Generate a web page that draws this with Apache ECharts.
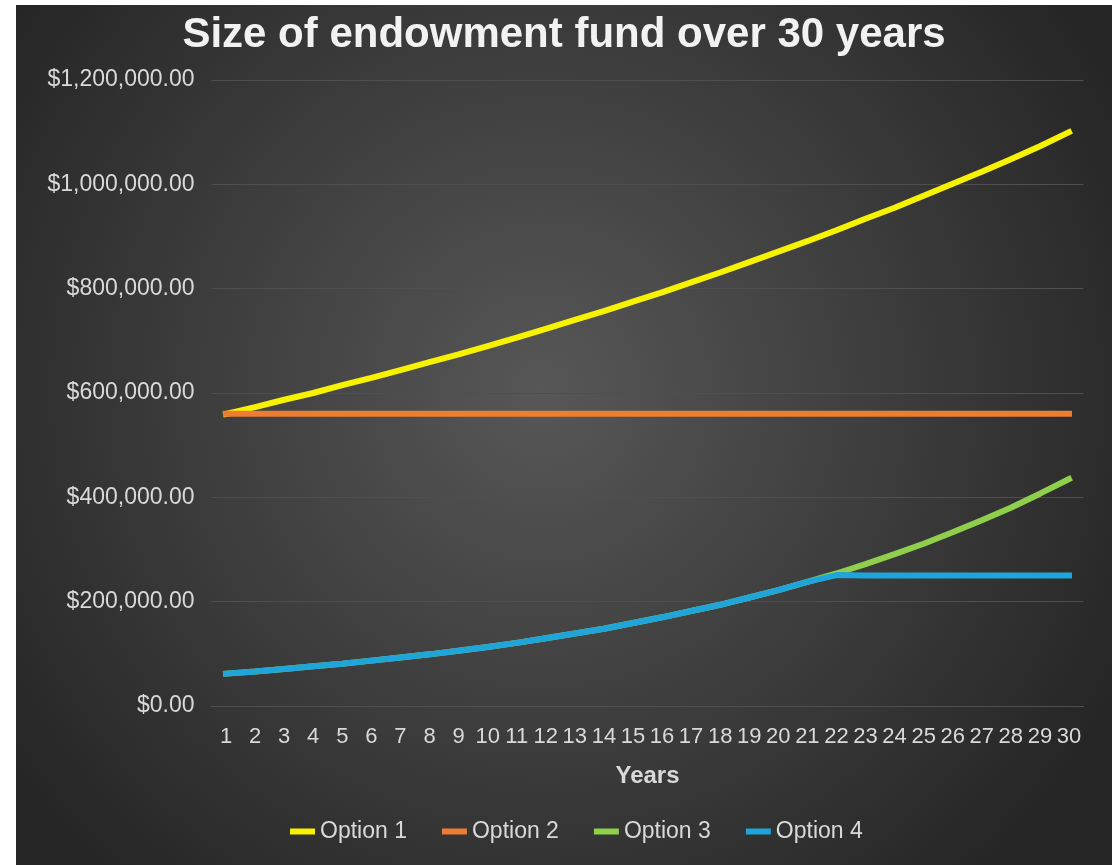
<!DOCTYPE html>
<html>
<head>
<meta charset="utf-8">
<title>Size of endowment fund over 30 years</title>
<script src="https://cdn.jsdelivr.net/npm/echarts@6/dist/echarts.min.js"></script>
<style>
  html, body { margin: 0; padding: 0; background: #fff; }
  #chart {
    position: absolute;
    left: 16px;
    top: 5px;
    width: 1096px;
    height: 860px;
  }
</style>
</head>
<body>
<div id="chart"></div>
<script>
// years on the x axis
var years = ['1', '2', '3', '4', '5', '6', '7', '8', '9', '10',
  '11', '12', '13', '14', '15', '16', '17', '18', '19', '20',
  '21', '22', '23', '24', '25', '26', '27', '28', '29', '30']

// values
var option1 = [560000, 573000, 587000, 600000, 615000, 629000, 644000, 659000, 674000, 690000,
  706000, 723000, 740000, 757000, 775000, 793000, 812000, 831000, 851000, 871000,
  891000, 912000, 934000, 955000, 978000, 1001000, 1024000, 1048000, 1073000, 1100000]
var option2 = [560000, 560000, 560000, 560000, 560000, 560000, 560000, 560000, 560000, 560000,
  560000, 560000, 560000, 560000, 560000, 560000, 560000, 560000, 560000, 560000,
  560000, 560000, 560000, 560000, 560000, 560000, 560000, 560000, 560000, 560000]
var option3 = [62000, 66000, 71000, 76000, 81000, 87000, 93000, 99000, 106000, 113000,
  121000, 130000, 139000, 148000, 159000, 170000, 182000, 194000, 208000, 222000,
  238000, 254000, 272000, 291000, 311000, 333000, 356000, 380000, 407000, 435000]
var option4 = [62000, 66000, 71000, 76000, 81000, 87000, 93000, 99000, 106000, 113000,
  121000, 130000, 139000, 148000, 159000, 170000, 182000, 194000, 208000, 222000,
  238000, 251000, 250000, 250000, 250000, 250000, 250000, 250000, 250000, 250000]

var seriesNames = ['Option 1', 'Option 2', 'Option 3', 'Option 4']
var seriesColors = ['#f7f200', '#ed7d31', '#8fcf4c', '#1fa5d9']

let myChart = echarts.init(document.getElementById('chart'))

function money(v) {
  return '$' + v.toLocaleString('en-US', { minimumFractionDigits: 2, maximumFractionDigits: 2 })
}

let lineSeries = [option1, option2, option3, option4].map(function (d, i) {
  return {
    name: seriesNames[i],
    type: 'line',
    data: d,
    symbol: 'none',
    lineStyle: {
      width: 6,
      color: seriesColors[i],
      cap: 'square'
    },
    itemStyle: { color: seriesColors[i] },
    z: 2 + i
  }
})

let option = {
  backgroundColor: {
    type: 'radial',
    x: 0.48,
    y: 0.45,
    r: 0.75,
    colorStops: [
      { offset: 0, color: '#575757' },
      { offset: 1, color: '#262626' }
    ]
  },
  animation: false,
  textStyle: { fontFamily: 'Liberation Sans, Arial, sans-serif' },
  title: {
    text: 'Size of endowment fund over 30 years',
    left: 'center',
    top: 4,
    textStyle: {
      color: '#f2f2f2',
      fontSize: 42,
      fontWeight: 'bold',
      fontFamily: 'Liberation Sans, Arial, sans-serif'
    }
  },
  legend: {
    left: 269,
    bottom: 17,
    itemWidth: 25,
    itemHeight: 6,
    itemGap: 35,
    icon: 'rect',
    data: seriesNames,
    textStyle: { color: '#d9d9d9', fontSize: 23 }
  },
  grid: {
    left: 195.5,
    right: 28.5,
    top: 75,
    bottom: 159
  },
  xAxis: {
    type: 'category',
    data: years,
    boundaryGap: true,
    name: 'Years',
    nameLocation: 'middle',
    nameGap: 58,
    nameTextStyle: { color: '#d9d9d9', fontSize: 24, fontWeight: 'bold' },
    axisLine: { show: true, lineStyle: { color: '#4f4f4f', width: 1 } },
    axisTick: { show: false },
    axisLabel: { color: '#d9d9d9', fontSize: 22, margin: 20, interval: 0 },
    splitLine: { show: false }
  },
  yAxis: {
    type: 'value',
    min: 0,
    max: 1200000,
    interval: 200000,
    axisLine: { show: false },
    axisTick: { show: false },
    axisLabel: {
      color: '#d9d9d9',
      fontSize: 23,
      margin: 17,
      formatter: money
    },
    splitLine: { lineStyle: { color: '#4f4f4f', width: 1 } }
  },
  series: lineSeries
}
myChart.setOption(option, true)
</script>
</body>
</html>
